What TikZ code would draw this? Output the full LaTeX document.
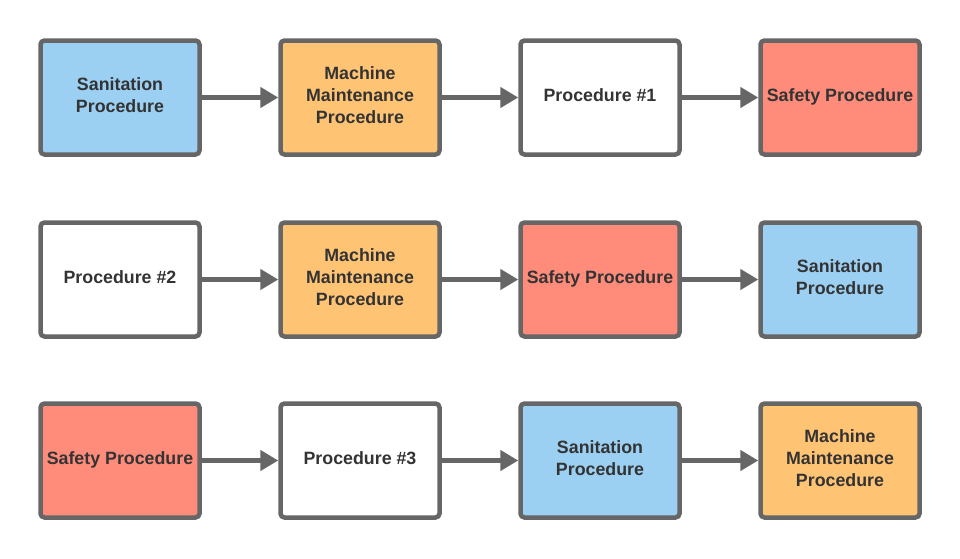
\documentclass[tikz,border=0pt]{standalone}
\usepackage{fontspec}
\setmainfont{Liberation Sans}
\usetikzlibrary{arrows.meta}
\definecolor{bluef}{HTML}{9BD0F2}
\definecolor{orangef}{HTML}{FFC374}
\definecolor{redf}{HTML}{FF8B7B}
\definecolor{edge}{HTML}{666666}
\definecolor{txt}{HTML}{333333}
\tikzset{
  box/.style={draw=edge, line width=4.5pt, rounded corners=4pt, minimum width=159pt, minimum height=114pt,
    align=center, text=txt, font=\fontsize{17.8}{22}\selectfont\bfseries, inner sep=0pt, text depth=4pt},
  bl/.style={box, fill=bluef},
  or/.style={box, fill=orangef},
  rd/.style={box, fill=redf},
  wh/.style={box, fill=white},
  conn/.style={draw=edge, line width=4.5pt, -{Triangle[length=18pt,width=20pt]}, shorten <=-1pt}
}
\begin{document}
\begin{tikzpicture}[x=1pt,y=-1pt]
\useasboundingbox[fill=white] (0,0) rectangle (960,558);
% row 1
\node[bl] (a1) at (120,97.5) {Sanitation\\Procedure};
\node[or] (a2) at (360,97.5) {Machine\\Maintenance\\Procedure};
\node[wh] (a3) at (600,97.5) {Procedure \#1};
\node[rd] (a4) at (840,97.5) {Safety Procedure};
% row 2
\node[wh] (b1) at (120,279.5) {Procedure \#2};
\node[or] (b2) at (360,279.5) {Machine\\Maintenance\\Procedure};
\node[rd] (b3) at (600,279.5) {Safety Procedure};
\node[bl] (b4) at (840,279.5) {Sanitation\\Procedure};
% row 3
\node[rd] (c1) at (120,460.5) {Safety Procedure};
\node[wh] (c2) at (360,460.5) {Procedure \#3};
\node[bl] (c3) at (600,460.5) {Sanitation\\Procedure};
\node[or] (c4) at (840,460.5) {Machine\\Maintenance\\Procedure};
\foreach \r in {a,b,c}{
  \draw[conn] (\r1) -- (\r2);
  \draw[conn] (\r2) -- (\r3);
  \draw[conn] (\r3) -- (\r4);
}
\end{tikzpicture}
\end{document}
